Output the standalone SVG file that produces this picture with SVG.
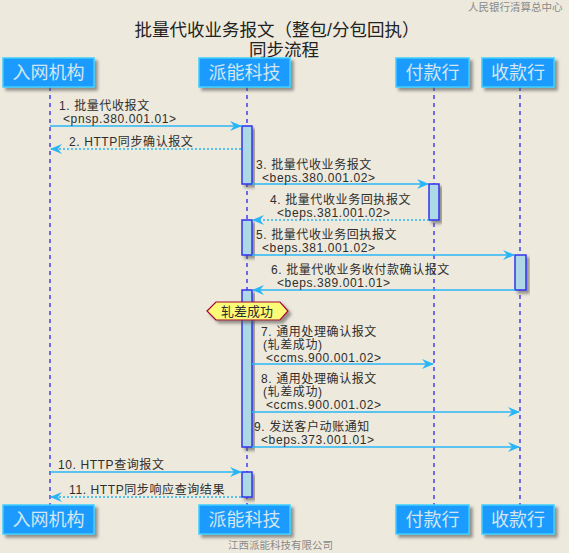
<svg xmlns="http://www.w3.org/2000/svg" width="569" height="553" viewBox="0 0 569 553">
<defs>
<style>
.t{font-family:"Liberation Sans","Noto Sans CJK SC",sans-serif;font-size:12px;letter-spacing:0.6px;fill:#2e2e2e}
.nt{font-family:"Liberation Sans","Noto Sans CJK SC",sans-serif;font-size:13px;fill:#2e2e2e;text-anchor:middle}
.title{font-family:"Liberation Sans","Noto Sans CJK SC",sans-serif;font-size:17.5px;fill:#222;text-anchor:middle}
.small{font-family:"Liberation Sans","Noto Sans CJK SC",sans-serif;font-size:10.5px;fill:#8a8a8a}
.pbox{fill:#1E9BFF;stroke:#3CD0FF;stroke-width:1.5}
.ptxt{font-family:"Liberation Sans","Noto Sans CJK SC",sans-serif;font-size:18px;fill:#D4E6EE;text-anchor:middle}
.life{stroke:#4B4BF0;stroke-width:1.6;stroke-dasharray:4 4;fill:none}
.act{fill:#ADD8E6;stroke:#3333EE;stroke-width:1.5}
.msg{stroke:#29B6F6;stroke-width:1.3;fill:none;marker-end:url(#ah)}
.ret{stroke:#29B6F6;stroke-width:1.3;fill:none;stroke-dasharray:2 2;marker-end:url(#ah)}
</style>
<marker id="ah" viewBox="0 0 12 10" refX="11" refY="5" markerWidth="12" markerHeight="10" markerUnits="userSpaceOnUse" orient="auto">
<path d="M0,0 L12,5 L0,10 L4,5 Z" fill="#29B6F6"/>
</marker>
<filter id="sh" x="-20%" y="-20%" width="150%" height="160%">
<feDropShadow dx="3" dy="3" stdDeviation="1.5" flood-color="#555" flood-opacity="0.6"/>
</filter>
</defs>
<rect width="569" height="553" fill="#EDE9DC"/>
<text class="small" x="468" y="11">人民银行清算总中心</text>
<text class="title" x="277" y="36">批量代收业务报文（整包/分包回执）</text>
<text class="title" x="284" y="56">同步流程</text>
<text class="small" x="228" y="549">江西派能科技有限公司</text>

<g id="lifelines">
<line class="life" x1="50" y1="87" x2="50" y2="505"/>
<line class="life" x1="247" y1="87" x2="247" y2="505"/>
<line class="life" x1="434" y1="87" x2="434" y2="505"/>
<line class="life" x1="520" y1="87" x2="520" y2="505"/>
</g>

<g id="p1">
<rect class="pbox" x="3" y="58" width="91" height="29" filter="url(#sh)"/>
<text class="ptxt" x="48.5" y="79">入网机构</text>
<rect class="pbox" x="3" y="505" width="91" height="29" filter="url(#sh)"/>
<text class="ptxt" x="48.5" y="526">入网机构</text>
</g>
<g id="p2">
<rect class="pbox" x="199" y="58" width="91" height="29" filter="url(#sh)"/>
<text class="ptxt" x="244.5" y="79">派能科技</text>
<rect class="pbox" x="199" y="505" width="91" height="29" filter="url(#sh)"/>
<text class="ptxt" x="244.5" y="526">派能科技</text>
</g>
<g id="p3">
<rect class="pbox" x="396" y="58" width="73" height="29" filter="url(#sh)"/>
<text class="ptxt" x="432.5" y="79">付款行</text>
<rect class="pbox" x="396" y="505" width="73" height="29" filter="url(#sh)"/>
<text class="ptxt" x="432.5" y="526">付款行</text>
</g>
<g id="p4">
<rect class="pbox" x="482" y="58" width="72" height="29" filter="url(#sh)"/>
<text class="ptxt" x="518" y="79">收款行</text>
<rect class="pbox" x="482" y="505" width="72" height="29" filter="url(#sh)"/>
<text class="ptxt" x="518" y="526">收款行</text>
</g>

<g id="activations">
<rect class="act" x="242" y="126" width="10" height="58" filter="url(#sh)"/>
<rect class="act" x="429" y="184" width="10" height="36" filter="url(#sh)"/>
<rect class="act" x="242" y="220" width="10" height="35" filter="url(#sh)"/>
<rect class="act" x="515" y="255" width="11" height="35" filter="url(#sh)"/>
<rect class="act" x="242" y="290" width="10" height="157" filter="url(#sh)"/>
<rect class="act" x="242" y="472" width="10" height="25" filter="url(#sh)"/>
</g>

<g id="connectors">
<line class="msg" x1="50" y1="126" x2="241" y2="126"/>
<line class="ret" x1="241" y1="149" x2="51" y2="149"/>
<line class="msg" x1="252" y1="184" x2="428" y2="184"/>
<line class="ret" x1="429" y1="220" x2="253" y2="220"/>
<line class="msg" x1="252" y1="255" x2="514" y2="255"/>
<line class="msg" x1="515" y1="290" x2="253" y2="290"/>
<line class="msg" x1="252" y1="364" x2="433" y2="364"/>
<line class="msg" x1="252" y1="412" x2="519" y2="412"/>
<line class="msg" x1="252" y1="447" x2="519" y2="447"/>
<line class="msg" x1="50" y1="472" x2="241" y2="472"/>
<line class="ret" x1="241" y1="497" x2="51" y2="497"/>
</g>

<g id="labels">
<text class="t" x="59" y="110">1. 批量代收报文</text>
<text class="t" x="63" y="123">&lt;pnsp.380.001.01&gt;</text>
<text class="t" x="69" y="146">2. HTTP同步确认报文</text>
<text class="t" x="256" y="169">3. 批量代收业务报文</text>
<text class="t" x="262" y="182">&lt;beps.380.001.02&gt;</text>
<text class="t" x="270" y="204">4. 批量代收业务回执报文</text>
<text class="t" x="277" y="217">&lt;beps.381.001.02&gt;</text>
<text class="t" x="256" y="239">5. 批量代收业务回执报文</text>
<text class="t" x="262" y="252">&lt;beps.381.001.02&gt;</text>
<text class="t" x="271" y="274">6. 批量代收业务收付款确认报文</text>
<text class="t" x="277" y="287">&lt;beps.389.001.01&gt;</text>
<text class="t" x="261" y="336">7. 通用处理确认报文</text>
<text class="t" x="263" y="349">(轧差成功)</text>
<text class="t" x="266" y="362">&lt;ccms.900.001.02&gt;</text>
<text class="t" x="261" y="383">8. 通用处理确认报文</text>
<text class="t" x="263" y="396">(轧差成功)</text>
<text class="t" x="266" y="409">&lt;ccms.900.001.02&gt;</text>
<text class="t" x="254" y="431">9. 发送客户动账通知</text>
<text class="t" x="261" y="444">&lt;beps.373.001.01&gt;</text>
<text class="t" x="58" y="469">10. HTTP查询报文</text>
<text class="t" x="69" y="494">11. HTTP同步响应查询结果</text>
</g>

<g id="note">
<polygon points="207,311 216,302 280,302 288,311 280,320 216,320" fill="#FBFB77" stroke="#A80036" stroke-width="1.2" filter="url(#sh)"/>
<text class="nt" x="247" y="316">轧差成功</text>
</g>
</svg>
